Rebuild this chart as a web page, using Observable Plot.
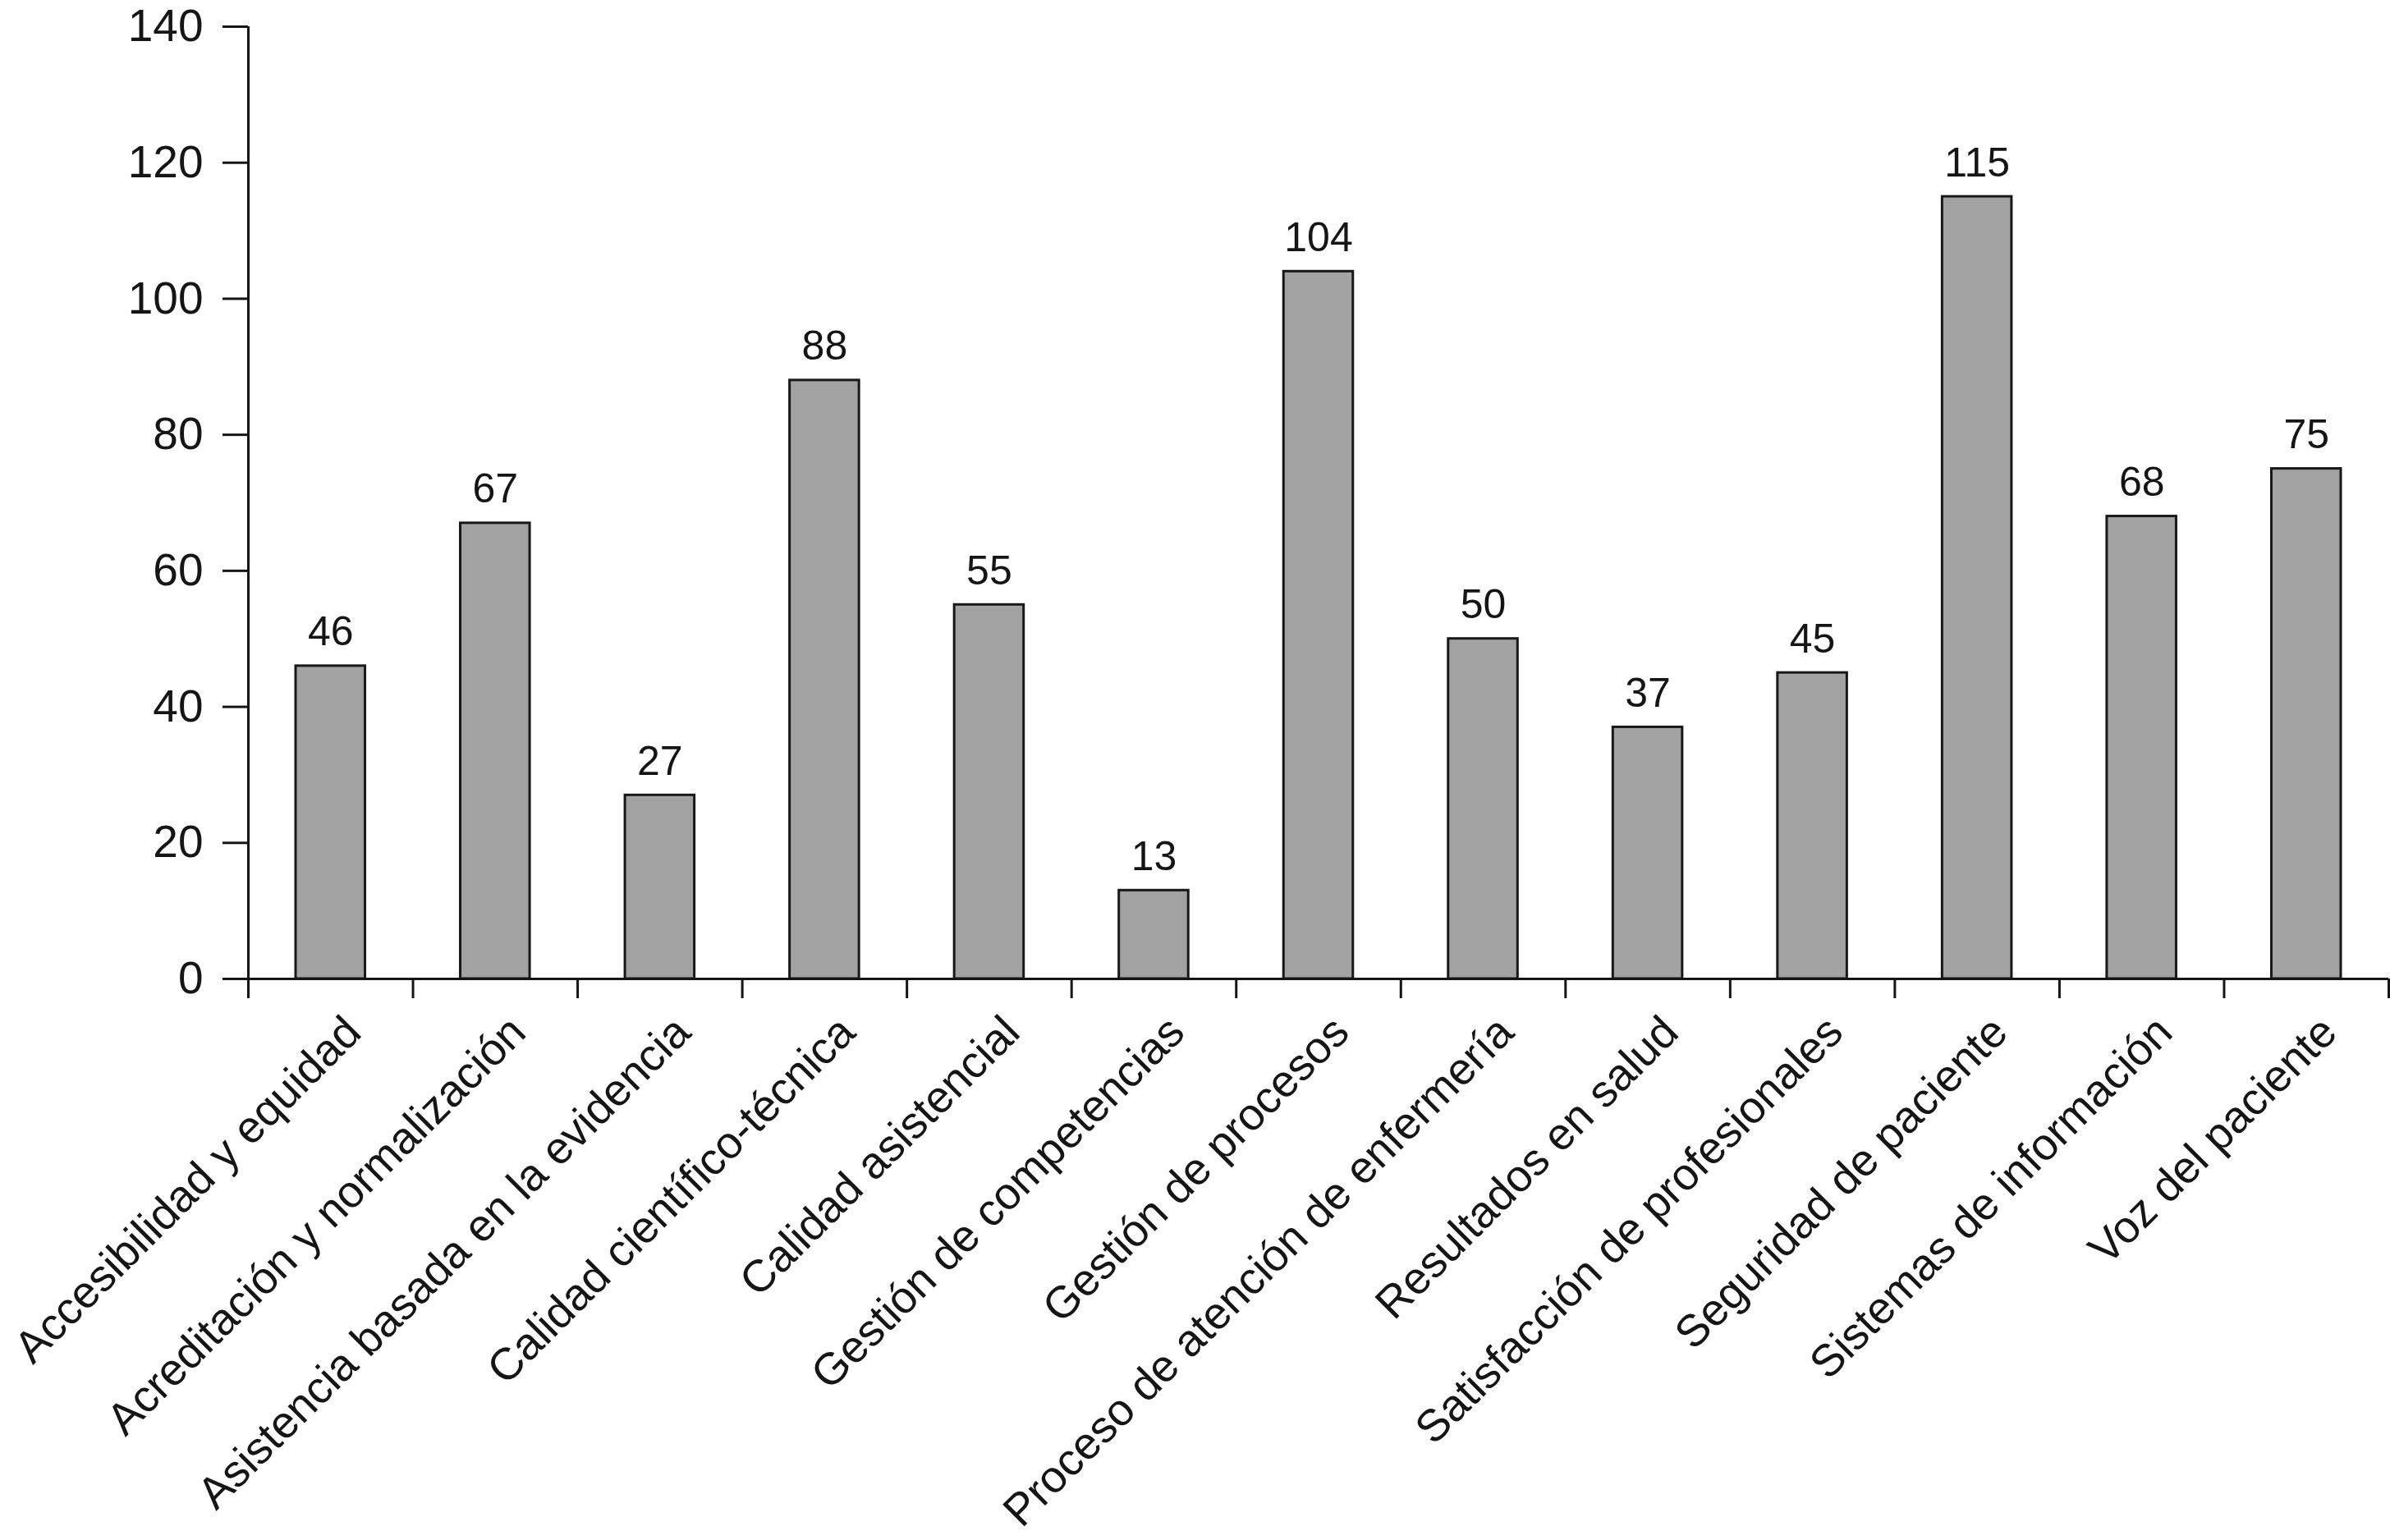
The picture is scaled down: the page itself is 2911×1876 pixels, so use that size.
<!DOCTYPE html>
<html>
<head>
<meta charset="utf-8">
<script src="https://cdn.jsdelivr.net/npm/d3@7"></script>
<script src="https://cdn.jsdelivr.net/npm/@observablehq/plot@0.6"></script>
<style>
  html, body { margin: 0; padding: 0; background: #fff; }
  svg { display: block; }
</style>
</head>
<body>
<div id="chart"></div>
<script>
const categories = [
  "Accesibilidad y equidad",
  "Acreditación y normalización",
  "Asistencia basada en la evidencia",
  "Calidad científico-técnica",
  "Calidad asistencial",
  "Gestión de competencias",
  "Gestión de procesos",
  "Proceso de atención de enfermería",
  "Resultados en salud",
  "Satisfacción de profesionales",
  "Seguridad de paciente",
  "Sistemas de información",
  "Voz del paciente"
];
const values = [46, 67, 27, 88, 55, 13, 104, 50, 37, 45, 115, 68, 75];
const yTicks = [0, 20, 40, 60, 80, 100, 120, 140];

const data = categories.map((c, i) => ({ c, i, v: values[i] }));
const bandEdges = d3.range(0, categories.length + 1);

const chart = Plot.plot({
  width: 2911,
  height: 1876,
  marginTop: 32,
  marginLeft: 302,
  marginRight: 2,
  marginBottom: 684,
  x: { type: "linear", domain: [0, categories.length], axis: null },
  y: { domain: [0, 140], axis: null },
  style: { fontFamily: "'Liberation Sans', Arial, Helvetica, sans-serif", background: "#fff", color: "#151515" },
  marks: [
    Plot.rectY(data, {
      x1: "i", x2: d => d.i + 1, y: "v",
      insetLeft: 58, insetRight: 58,
      fill: "#a2a2a2", stroke: "#181818", strokeWidth: 3
    }),
    Plot.ruleX([0], { stroke: "#151515", strokeWidth: 3 }),
    Plot.ruleY([0], { stroke: "#151515", strokeWidth: 3 }),
    Plot.axisY({
      ticks: yTicks, tickSize: 31, tickPadding: 24, fontSize: 55,
      strokeWidth: 3, stroke: "#151515", fill: "#151515", label: null
    }),
    Plot.axisX({
      ticks: bandEdges, tickSize: 24, tickFormat: () => "",
      strokeWidth: 3, stroke: "#151515", label: null
    }),
    Plot.text(data, {
      x: d => d.i + 0.5, y: 0, text: "c",
      rotate: -45, textAnchor: "end", lineAnchor: "bottom",
      dx: 40, dy: 68, fontSize: 54.5, fill: "#151515"
    }),
    Plot.text(data, {
      x: d => d.i + 0.5, y: "v", text: d => String(d.v),
      lineAnchor: "bottom", dy: -25, fontSize: 50, fill: "#151515"
    })
  ]
});
document.getElementById("chart").appendChild(chart);
</script>
</body>
</html>
